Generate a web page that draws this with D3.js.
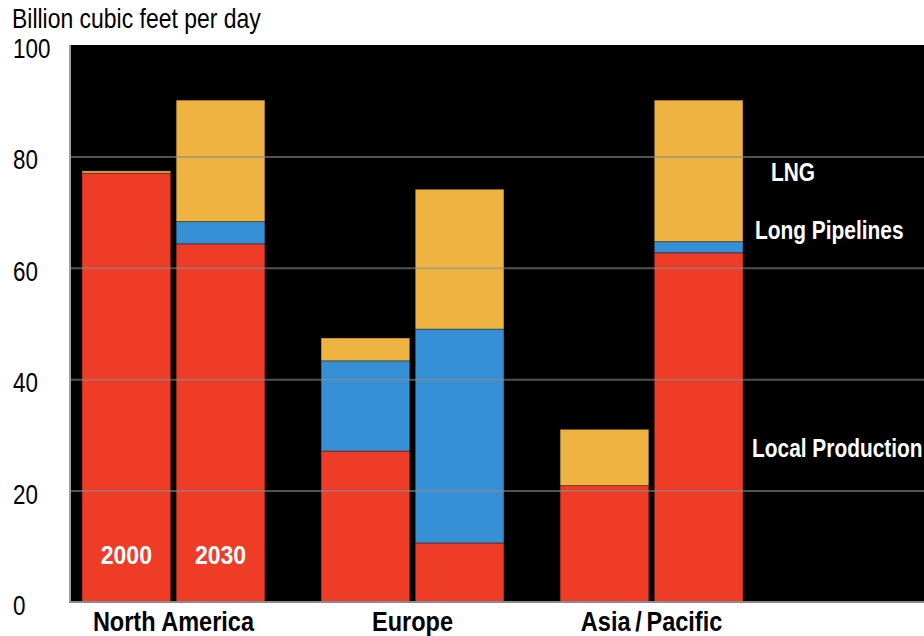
<!DOCTYPE html>
<html>
<head>
<meta charset="utf-8">
<script src="https://cdn.jsdelivr.net/npm/d3@7"></script>
<style>
  html, body { margin: 0; padding: 0; background: #fff; }
  svg { display: block; }
  text { font-family: "Liberation Sans", Arial, Helvetica, sans-serif; }
</style>
</head>
<body>
<svg id="chart" width="924" height="636"></svg>
<script>
// Natural gas supply by source, 2000 vs 2030
const regions = ["North America", "Europe", "Asia\u2009/\u2009Pacific"];
const years = ["2000", "2030"];
const sources = ["Local Production", "Long Pipelines", "LNG"];
// one value per region/year pair, in the order NA-2000, NA-2030, EU-2000, ...
const localProduction = [77.0, 64.3, 27.1, 10.6, 20.9, 62.7];
const longPipelines   = [0.0, 4.0, 16.2, 38.4, 0.0, 2.0];
const lng             = [0.4, 21.8, 4.1, 25.1, 10.1, 25.4];
const yTicks = [0, 20, 40, 60, 80, 100];
const yTitle = "Billion cubic feet per day";

const colors = { "Local Production": "#ee3c27", "Long Pipelines": "#3590d6", "LNG": "#efb342" };

const svg = d3.select("#chart");
const plot = { left: 70, right: 924, top: 45, bottom: 602 };

const rows = [];
regions.forEach((r, i) => years.forEach((yr, j) => {
  const k = i * years.length + j;
  rows.push({ region: r, year: yr,
    "Local Production": localProduction[k],
    "Long Pipelines": longPipelines[k],
    "LNG": lng[k] });
}));

const y = d3.scaleLinear().domain([0, 100]).range([plot.bottom, plot.top]);
const x0 = d3.scaleBand().domain(regions).range([82, 743]).paddingInner(0.235).paddingOuter(0);
const x1 = d3.scaleBand().domain(years).range([0, x0.bandwidth()]).paddingInner(0.058).paddingOuter(0);

// condensed lettering: draw at the origin of a group squeezed horizontally
function narrowText(sel, opts) {
  return sel.each(function (d, i) {
    const g = d3.select(this);
    g.attr("transform", `translate(${opts.x(d, i)},${opts.y(d, i)}) scale(${opts.sx},1)`);
    g.append("text")
      .attr("text-anchor", opts.anchor || "start")
      .attr("font-size", opts.size)
      .attr("font-weight", opts.weight || "normal")
      .attr("fill", opts.fill || "#000")
      .text(opts.text(d, i));
  });
}

// black plot panel
svg.append("rect")
  .attr("x", plot.left).attr("y", plot.top)
  .attr("width", plot.right - plot.left).attr("height", plot.bottom - plot.top)
  .attr("fill", "#000");

const stack = d3.stack().keys(sources)(rows);

svg.append("g").selectAll("g")
  .data(stack).join("g")
  .attr("fill", d => colors[d.key])
  .selectAll("rect")
  .data(d => d.filter(s => s[1] - s[0] > 0))
  .join("rect")
  .attr("x", d => x0(d.data.region) + x1(d.data.year))
  .attr("width", x1.bandwidth())
  .attr("y", d => y(d[1]))
  .attr("height", d => y(d[0]) - y(d[1]))
  .attr("stroke", "rgba(0,0,0,0.35)")
  .attr("stroke-width", 1);

// horizontal gridlines over the bars
const grid = d3.axisLeft(y).tickValues(yTicks.filter(t => t > 0 && t < 100))
  .tickSize(-(plot.right - plot.left)).tickFormat("");
svg.append("g")
  .attr("transform", `translate(${plot.left},0)`)
  .call(grid)
  .call(g => g.select(".domain").remove())
  .call(g => g.selectAll("line").attr("stroke", "#8a8a8a").attr("stroke-opacity", 0.6).attr("stroke-width", 2));

// frame lines
svg.append("line").attr("x1", plot.left).attr("x2", plot.left)
  .attr("y1", plot.top).attr("y2", plot.bottom)
  .attr("stroke", "#a0a0a0").attr("stroke-width", 2);
svg.append("line").attr("x1", plot.left - 1).attr("x2", plot.right)
  .attr("y1", plot.bottom).attr("y2", plot.bottom)
  .attr("stroke", "#8a8a8a").attr("stroke-width", 2);

// y tick labels, left-aligned
svg.append("g").selectAll("g")
  .data(yTicks).join("g")
  .call(narrowText, { x: () => 13, y: d => y(d) + 13, sx: 0.8, size: 28, text: d => d });

// unit title
svg.append("g").datum(yTitle)
  .call(narrowText, { x: () => 12, y: () => 28, sx: 0.82, size: 28, text: d => d });

// region labels
svg.append("g").selectAll("g")
  .data(regions).join("g")
  .call(narrowText, { x: d => x0(d) + x0.bandwidth() / 2, y: () => 631, sx: 0.84, size: 28,
    weight: "bold", anchor: "middle", text: d => d });

// year labels inside the first pair of bars
svg.append("g").selectAll("g")
  .data(years).join("g")
  .call(narrowText, { x: d => x0(regions[0]) + x1(d) + x1.bandwidth() / 2, y: () => 564, sx: 0.92,
    size: 25, weight: "bold", anchor: "middle", fill: "#fff", text: d => d });

// series labels at the right of the last bar
const lastX = x0(regions[regions.length - 1]) + x0.bandwidth();
const labelSpots = [
  { key: "LNG", dx: 28, at: 75.6 },
  { key: "Long Pipelines", dx: 12, at: 65.2 },
  { key: "Local Production", dx: 9, at: 26.1 }
];
svg.append("g").selectAll("g")
  .data(labelSpots).join("g")
  .call(narrowText, { x: d => lastX + d.dx, y: d => y(d.at), sx: 0.82, size: 25.5,
    weight: "bold", fill: "#fff", text: d => d.key });
</script>
</body>
</html>
